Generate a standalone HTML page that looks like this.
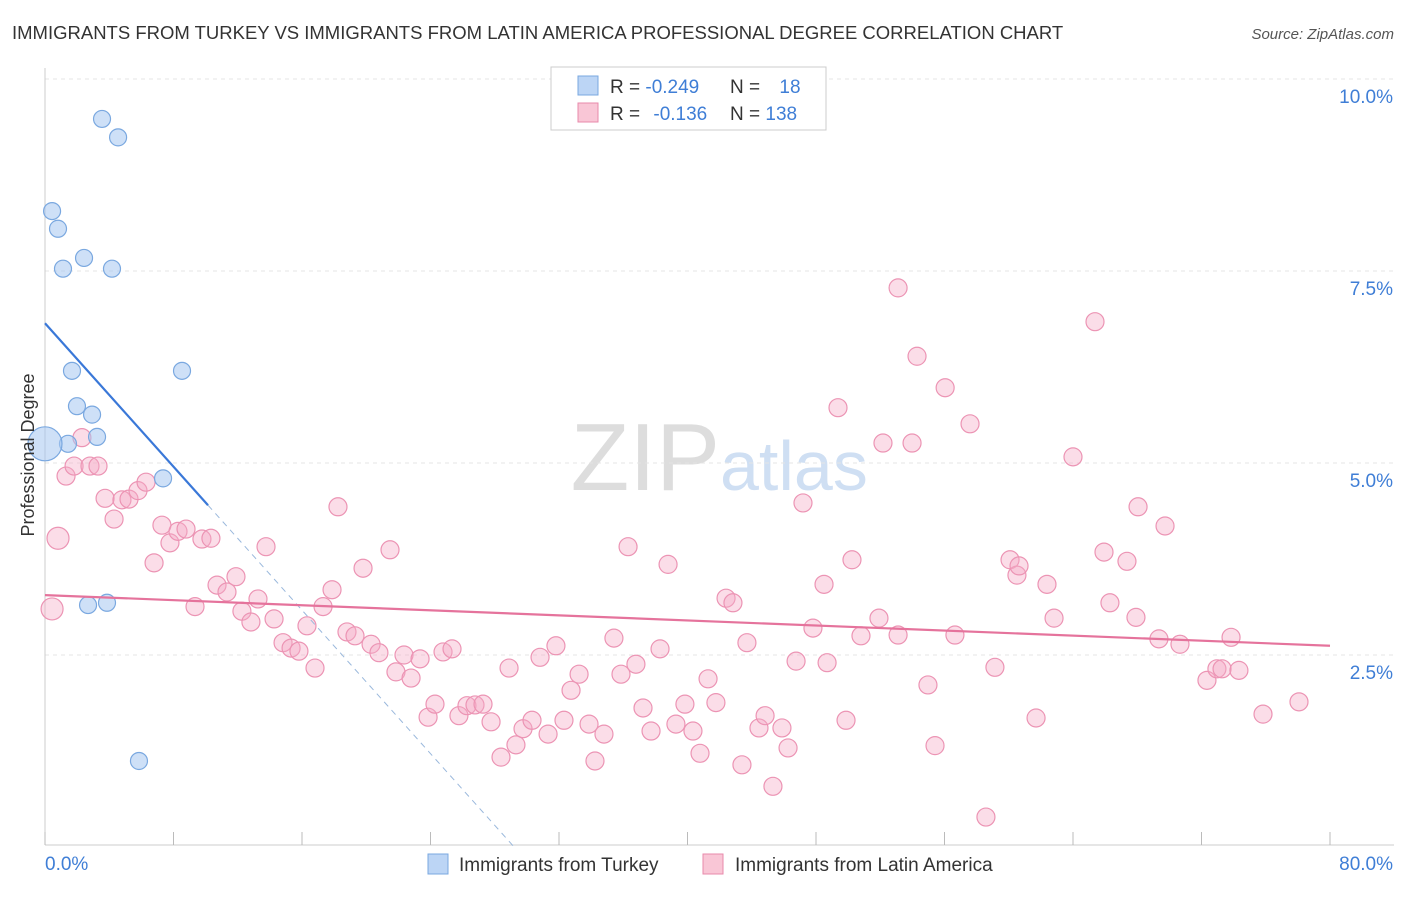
<!DOCTYPE html>
<html><head><meta charset="utf-8"><style>
body{margin:0;background:#fff;font-family:"Liberation Sans",sans-serif;}
svg text{font-family:"Liberation Sans",sans-serif;}
</style></head><body>
<svg id="c" width="1406" height="892" viewBox="0 0 1406 892">
<text x="12" y="39" font-size="18.5" fill="#333">IMMIGRANTS FROM TURKEY VS IMMIGRANTS FROM LATIN AMERICA PROFESSIONAL DEGREE CORRELATION CHART</text>
<text x="1394" y="39" font-size="15" fill="#555" text-anchor="end" font-style="italic">Source: ZipAtlas.com</text>
<text x="720" y="490" font-size="96" fill="#ddd" text-anchor="end" font-family="Liberation Serif">ZIP</text>
<text x="720" y="490" font-size="70" fill="#cfdff3">atlas</text>
<g id="grid"></g>
<g id="axes"></g>
<g id="pts"></g>
<g id="trend"></g>
<text transform="translate(34,455) rotate(-90)" font-size="18" fill="#333" text-anchor="middle">Professional Degree</text>
<g>
<rect x="551" y="67" width="275" height="63" fill="#fff" stroke="#ccc"/>
<rect x="578" y="76" width="20" height="19" fill="#bcd5f5" stroke="#7aa8e0"/>
<rect x="578" y="103" width="20" height="19" fill="#f9c6d6" stroke="#e88aab"/>
<text x="610" y="93" font-size="19" fill="#333">R = <tspan fill="#3f7ed6">-0.249</tspan></text>
<text x="730" y="93" font-size="19" fill="#333">N = <tspan fill="#3f7ed6" dx="14">18</tspan></text>
<text x="610" y="120" font-size="19" fill="#333">R = <tspan fill="#3f7ed6" dx="8">-0.136</tspan></text>
<text x="730" y="120" font-size="19" fill="#333">N = <tspan fill="#3f7ed6">138</tspan></text>
</g>
<g>
<rect x="428" y="854" width="20" height="20" fill="#bcd5f5" stroke="#7aa8e0"/>
<text x="459" y="871" font-size="19" fill="#333">Immigrants from Turkey</text>
<rect x="703" y="854" width="20" height="20" fill="#f9c6d6" stroke="#e88aab"/>
<text x="735" y="871" font-size="19" fill="#333">Immigrants from Latin America</text>
</g>
</svg>
<script>
const xTickLabels=["0.0%","80.0%"];
const yTicks=[2.5,5,7.5,10];
const yTickLabels=["2.5%","5.0%","7.5%","10.0%"];
const turkeyX=[3.55,4.55,0.44,0.81,1.12,2.43,4.17,1.68,8.53,1.99,2.93,3.24,1.43,0,7.35,2.68,3.86,5.85];
const turkeyY=[9.48,9.24,8.28,8.05,7.53,7.67,7.53,6.20,6.20,5.74,5.63,5.34,5.25,5.25,4.80,3.15,3.18,1.12];
const latinX=[0.44,0.81,1.31,1.81,2.30,2.80,3.30,3.74,4.30,4.79,5.23,5.79,6.29,6.79,7.28,7.78,8.28,8.78,9.34,9.77,10.33,10.71,11.33,11.89,12.26,12.82,13.26,13.76,14.26,14.82,15.32,15.81,16.31,16.81,17.31,17.87,18.24,18.80,19.30,19.80,20.30,20.79,21.48,21.85,22.35,22.79,23.35,23.85,24.28,24.78,25.34,25.77,26.27,26.77,27.27,27.77,28.39,28.89,29.32,29.76,30.32,30.82,31.32,31.81,32.31,32.75,33.25,33.87,34.24,34.80,35.42,35.86,36.30,36.79,37.23,37.73,38.29,38.79,39.28,39.84,40.34,40.78,41.28,41.77,42.40,42.83,43.39,43.70,44.45,44.83,45.32,45.88,46.26,46.76,47.19,47.81,48.50,48.69,49.37,49.87,50.24,50.80,51.92,52.17,53.11,53.11,53.98,54.29,54.97,55.41,56.04,56.65,57.59,58.58,59.14,60.08,60.51,60.64,61.70,62.38,62.82,64.00,65.37,65.93,66.30,67.36,67.92,68.05,69.35,69.73,70.66,72.34,72.96,73.28,73.84,74.33,75.83,78.07];
const latinY=[3.10,4.02,4.83,4.96,5.33,4.96,4.96,4.54,4.27,4.52,4.53,4.64,4.75,3.70,4.19,3.96,4.11,4.14,3.13,4.01,4.02,3.41,3.32,3.52,3.07,2.93,3.23,3.91,2.97,2.66,2.59,2.55,2.88,2.33,3.13,3.35,4.43,2.80,2.75,3.63,2.64,2.53,3.87,2.28,2.50,2.20,2.45,1.69,1.86,2.54,2.58,1.71,1.84,1.85,1.86,1.63,1.17,2.33,1.33,1.54,1.65,2.47,1.47,2.62,1.65,2.04,2.25,1.60,1.12,1.47,2.72,2.25,3.91,2.38,1.81,1.51,2.58,3.68,1.60,1.86,1.51,1.22,2.19,1.88,3.24,3.18,1.07,2.66,1.55,1.71,0.79,1.55,1.29,2.42,4.48,2.85,3.42,2.40,5.72,1.65,3.74,2.75,2.98,5.26,2.76,7.28,5.26,6.39,2.11,1.32,5.98,2.76,5.51,0.39,2.34,3.74,3.54,3.66,1.68,3.42,2.98,5.08,6.84,3.84,3.18,3.72,2.99,4.43,2.71,4.18,2.64,2.17,2.32,2.32,2.73,2.30,1.73,1.89];
const turkeyTrend=[6.82,-0.2335];
const latinTrend=[3.28,-0.00825];
const X0=45,X1=1330,Y0=847,Y10=79;
function sx(v){return X0+(X1-X0)*v/80;}
function sy(v){return Y0+(Y10-Y0)*v/10;}
const NS="http://www.w3.org/2000/svg";
function mk(tag,attrs,parent){const e=document.createElementNS(NS,tag);for(const k in attrs)e.setAttribute(k,attrs[k]);parent.appendChild(e);return e;}
const grid=document.getElementById('grid'),axes=document.getElementById('axes'),pts=document.getElementById('pts'),tr=document.getElementById('trend');
let g=mk('line',{x1:45,x2:1394,y1:sy(10),y2:sy(10),stroke:'#ddd','stroke-dasharray':'4,4'},grid);


yTicks.forEach((t,i)=>{
 const l=mk('line',{x1:45,x2:1394,y1:sy(t),y2:sy(t),stroke:'#e4e4e4','stroke-dasharray':'4,4'},grid);
 
 
 const tx=mk('text',{x:1393,y:sy(t)+24,'font-size':19,fill:'#3f7ed6','text-anchor':'end'},grid);
 tx.textContent=yTickLabels[i];
 
 
});
let a=mk('line',{x1:45,x2:45,y1:68,y2:845,stroke:'#ccc'},axes);


a=mk('line',{x1:45,x2:1394,y1:845,y2:845,stroke:'#ccc'},axes);


for(let v=0;v<=80;v+=8){
 const t=mk('line',{x1:sx(v),x2:sx(v),y1:832,y2:845,stroke:'#bbb'},axes);
 
 
}
let xl=mk('text',{x:45,y:870,'font-size':19,fill:'#3f7ed6'},axes);xl.textContent=xTickLabels[0];


xl=mk('text',{x:1393,y:870,'font-size':19,fill:'#3f7ed6','text-anchor':'end'},axes);xl.textContent=xTickLabels[1];


latinX.forEach((x,i)=>{
 const r=(i<2)?11:9;
 const c=mk('circle',{cx:sx(x),cy:sy(latinY[i]),r:r,fill:'rgba(246,170,198,0.4)',stroke:'#ec94b4','stroke-width':1.2},pts);
 
 
});
turkeyX.forEach((x,i)=>{
 const r=(x===0)?17:8.5;
 const c=mk('circle',{cx:sx(x),cy:sy(turkeyY[i]),r:r,fill:'rgba(165,198,240,0.55)',stroke:'#7aa8e0','stroke-width':1.2},pts);
 
 
});
const xs=10.15,xe=-turkeyTrend[0]/turkeyTrend[1];
let l=mk('line',{x1:sx(0),y1:sy(turkeyTrend[0]),x2:sx(xs),y2:sy(turkeyTrend[0]+turkeyTrend[1]*xs),stroke:'#3a78d8','stroke-width':2.2},tr);


l=mk('line',{x1:sx(xs),y1:sy(turkeyTrend[0]+turkeyTrend[1]*xs),x2:sx(xe),y2:sy(0),stroke:'#9ab8dc','stroke-width':1,'stroke-dasharray':'6,5'},tr);


l=mk('line',{x1:sx(0),y1:sy(latinTrend[0]),x2:sx(80),y2:sy(latinTrend[0]+latinTrend[1]*80),stroke:'#e5739c','stroke-width':2.2},tr);


</script>
</body></html>
